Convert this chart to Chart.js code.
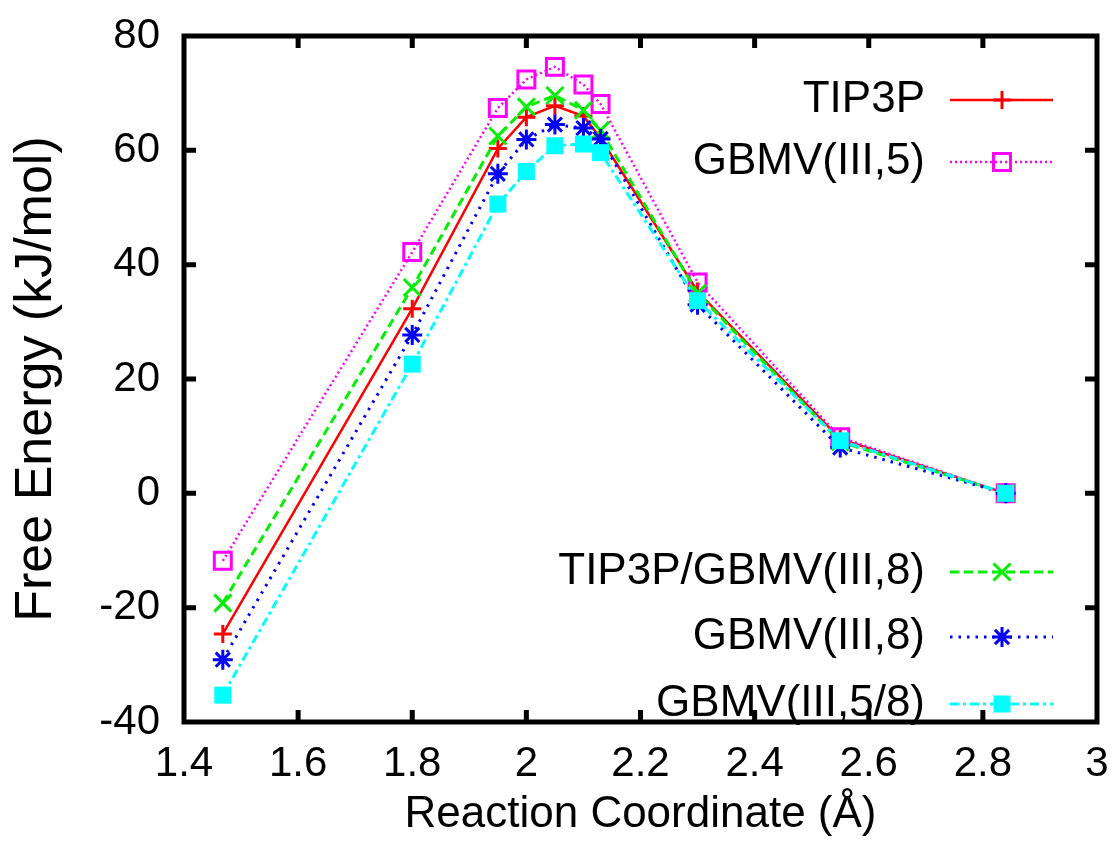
<!DOCTYPE html>
<html>
<head>
<meta charset="utf-8">
<title>Free Energy vs Reaction Coordinate</title>
<script src="https://cdn.jsdelivr.net/npm/chart.js@4.4.1/dist/chart.umd.min.js"></script>
<style>
  html, body { margin: 0; padding: 0; background: #fff; }
  #wrap { width: 1120px; height: 859px; }
</style>
</head>
<body>
<div id="wrap"><canvas id="feChart" width="1120" height="859"></canvas></div>
<script>
// reaction coordinate (Å) of each window
const coord = [1.468, 1.8, 1.95, 2.0, 2.05, 2.1, 2.13, 2.3, 2.55, 2.84];

// free energy (kJ/mol)
const tip3p      = [-24.6, 32.3, 60.3, 65.8, 67.8, 66.0, 62.1, 35.3, 9.5, 0];
const gbmv5      = [-11.8, 42.2, 67.4, 72.4, 74.6, 71.5, 68.1, 36.9, 9.8, 0];
const tip3pGbmv8 = [-19.2, 36.0, 62.5, 67.6, 69.6, 67.0, 63.5, 35.0, 9.0, 0];
const gbmv8      = [-29.1, 27.7, 55.9, 61.9, 64.5, 63.9, 62.0, 33.0, 8.0, 0];
const gbmv58     = [-35.3, 22.6, 50.6, 56.3, 60.8, 61.1, 59.6, 33.7, 9.2, 0];

// axis ticks
const xTicks = [1.4, 1.6, 1.8, 2, 2.2, 2.4, 2.6, 2.8, 3];
const yTicks = [-40, -20, 0, 20, 40, 60, 80];

const FONT = "'Liberation Sans', Arial, Helvetica, sans-serif";
Chart.defaults.font.family = FONT;
Chart.defaults.color = '#000';

function pts(ys) {
    return coord.map((x, i) => ({ x: x, y: ys[i] }));
}

// legend rows: where each dataset's key goes (text right edge, row centre)
const legendRows = [
    { x: 925, y: 100 },
    { x: 925, y: 162 },
    { x: 925, y: 572 },
    { x: 925, y: 637 },
    { x: 925, y: 704 }
];

const legendPlugin = {
    id: 'gnuLegend',
    afterDraw(chart) {
        const ctx = chart.ctx;
        chart.data.datasets.forEach((ds, i) => {
            const row = legendRows[i];
            ctx.save();
            ctx.font = '44px ' + FONT;
            ctx.fillStyle = '#000';
            ctx.textAlign = 'right';
            ctx.textBaseline = 'middle';
            ctx.fillText(ds.label, row.x, row.y);

            // line sample
            ctx.strokeStyle = ds.borderColor;
            ctx.lineWidth = ds.borderWidth;
            ctx.setLineDash(ds.borderDash || []);
            ctx.beginPath();
            ctx.moveTo(row.x + 25, row.y);
            ctx.lineTo(row.x + 128, row.y);
            ctx.stroke();

            // marker
            ctx.setLineDash([]);
            ctx.fillStyle = ds.pointBackgroundColor;
            ctx.strokeStyle = ds.pointBorderColor;
            ctx.lineWidth = ds.pointBorderWidth;
            Chart.helpers.drawPoint(ctx, {
                pointStyle: ds.pointStyle,
                radius: ds.pointRadius,
                borderWidth: ds.pointBorderWidth,
                rotation: 0
            }, row.x + 77, row.y);
            ctx.restore();
        });
    }
};

// heavy gnuplot-style border with inward tick marks on all four sides
const framePlugin = {
    id: 'gnuFrame',
    afterDraw(chart) {
        const ctx = chart.ctx;
        const a = chart.chartArea;
        const xs = chart.scales.x, ys = chart.scales.y;
        const len = 12;
        ctx.save();
        ctx.strokeStyle = '#000';
        ctx.lineWidth = 5;
        ctx.beginPath();
        xTicks.slice(1, -1).forEach(v => {
            const px = xs.getPixelForValue(v);
            ctx.moveTo(px, a.bottom); ctx.lineTo(px, a.bottom - len);
            ctx.moveTo(px, a.top); ctx.lineTo(px, a.top + len);
        });
        yTicks.slice(1, -1).forEach(v => {
            const py = ys.getPixelForValue(v);
            ctx.moveTo(a.left, py); ctx.lineTo(a.left + len, py);
            ctx.moveTo(a.right, py); ctx.lineTo(a.right - len, py);
        });
        ctx.stroke();
        ctx.strokeRect(a.left, a.top, a.right - a.left, a.bottom - a.top);
        ctx.restore();
    }
};

const ctx = document.getElementById('feChart').getContext('2d');

// invisible grid: only used so the tick labels sit away from the frame
const hiddenGrid = {
    display: true,
    drawOnChartArea: false,
    drawTicks: true,
    color: 'rgba(0,0,0,0)'
};

const myChart = new Chart(ctx, {
    type: 'line',
    data: {
        datasets: [
            {
                label: 'TIP3P',
                data: pts(tip3p),
                borderColor: '#ff0000',
                borderWidth: 2.5,
                borderDash: [],
                pointStyle: 'cross',
                pointRadius: 9,
                pointBorderWidth: 3,
                pointBorderColor: '#ff0000',
                pointBackgroundColor: '#ff0000',
                order: 4
            },
            {
                label: 'GBMV(III,5)',
                data: pts(gbmv5),
                borderColor: '#ff00ff',
                borderWidth: 2.5,
                borderDash: [2, 3],
                pointStyle: 'rect',
                pointRadius: 12,
                pointBorderWidth: 3,
                pointBorderColor: '#ff00ff',
                pointBackgroundColor: 'rgba(255,255,255,0)',
                order: 3
            },
            {
                label: 'TIP3P/GBMV(III,8)',
                data: pts(tip3pGbmv8),
                borderColor: '#00f000',
                borderWidth: 3,
                borderDash: [9, 5],
                pointStyle: 'crossRot',
                pointRadius: 12,
                pointBorderWidth: 3,
                pointBorderColor: '#00f000',
                pointBackgroundColor: '#00f000',
                order: 2
            },
            {
                label: 'GBMV(III,8)',
                data: pts(gbmv8),
                borderColor: '#0000ff',
                borderWidth: 3,
                borderDash: [2.5, 6],
                pointStyle: 'star',
                pointRadius: 10,
                pointBorderWidth: 3,
                pointBorderColor: '#0000ff',
                pointBackgroundColor: '#0000ff',
                order: 1
            },
            {
                label: 'GBMV(III,5/8)',
                data: pts(gbmv58),
                borderColor: '#00ffff',
                borderWidth: 3,
                borderDash: [9, 4, 3, 4],
                pointStyle: 'rect',
                pointRadius: 12,
                pointBorderWidth: 0,
                pointBorderColor: '#00ffff',
                pointBackgroundColor: '#00ffff',
                order: 0
            }
        ]
    },
    options: {
        responsive: false,
        animation: false,
        layout: { padding: { top: 36, right: 23, left: 0, bottom: 0 } },
        plugins: {
            legend: { display: false },
            tooltip: { enabled: false }
        },
        elements: { line: { tension: 0 } },
        scales: {
            x: {
                type: 'linear',
                min: 1.4,
                max: 3,
                afterBuildTicks: s => { s.ticks = xTicks.map(v => ({ value: v })); },
                afterFit: s => { s.height = 137; },
                grid: Object.assign({ tickLength: 14 }, hiddenGrid),
                border: { display: false },
                ticks: {
                    padding: 3,
                    maxRotation: 0,
                    autoSkip: false,
                    font: { size: 42 },
                    callback: v => String(Math.round(v * 10) / 10)
                },
                title: {
                    display: true,
                    text: 'Reaction Coordinate (Å)',
                    font: { size: 44 },
                    padding: { top: 0, bottom: 18 }
                }
            },
            y: {
                min: -40,
                max: 80,
                afterBuildTicks: s => { s.ticks = yTicks.map(v => ({ value: v })); },
                afterFit: s => { s.width = 184; },
                grid: Object.assign({ tickLength: 20 }, hiddenGrid),
                border: { display: false },
                ticks: {
                    padding: 4,
                    autoSkip: false,
                    font: { size: 42 }
                },
                title: {
                    display: true,
                    text: 'Free Energy (kJ/mol)',
                    font: { size: 52 },
                    padding: { top: 5, bottom: 0 }
                }
            }
        }
    },
    plugins: [legendPlugin, framePlugin]
});
</script>
</body>
</html>
